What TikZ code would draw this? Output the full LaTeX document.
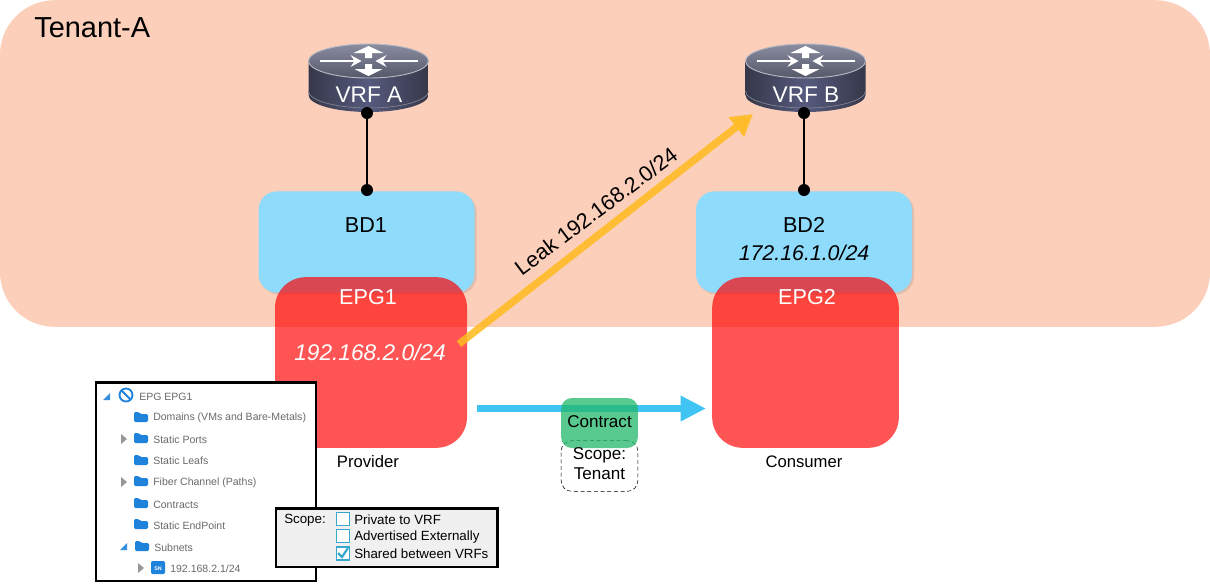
\documentclass[tikz,border=0pt]{standalone}
\usepackage{fontspec}
\setmainfont{Liberation Sans}
\usetikzlibrary{arrows.meta,shapes.geometric,shadows}
\definecolor{tenantfill}{HTML}{FBCFBA}
\definecolor{bdfill}{HTML}{8EDBFB}
\definecolor{epgfill}{HTML}{FF0000}
\definecolor{leakcol}{HTML}{FFBB22}
\definecolor{flowcol}{HTML}{40C4F4}
\definecolor{contractfill}{HTML}{22B86A}
\definecolor{folderblue}{HTML}{1F83DC}
\definecolor{treetext}{HTML}{6A6A6A}
\definecolor{scopegrey}{HTML}{F0F0F0}
\definecolor{routerdark}{HTML}{363849}
\definecolor{routermid}{HTML}{565A7E}
\definecolor{routertop}{HTML}{8A8DA0}
\definecolor{routerlow}{HTML}{555869}
\definecolor{routerrim}{HTML}{B6B8C4}
\tikzset{
  bdbox/.style={draw=none,fill=bdfill,rounded corners=14pt,minimum width=162pt,minimum height=76pt,inner sep=0pt,drop shadow={opacity=.22,shadow xshift=1.5pt,shadow yshift=-1.5pt}},
  epgbox/.style={draw=none,fill=epgfill,fill opacity=.67,text opacity=1,rounded corners=23pt,inner sep=0pt},
  dot/.style={circle,fill=black,draw=none,minimum size=9pt,inner sep=0pt},
  treelabel/.style={anchor=west,font=\fontsize{7.9}{9}\selectfont,text=treetext,inner sep=0pt},
  treearrow/.style={fill=treetext!70,draw=none},
  checkitem/.style={anchor=west,font=\fontsize{10}{11}\selectfont,inner sep=0pt},
  tick/.style={draw=flowcol!85!black,fill=white,line width=1.1pt},
  biglabel/.style={font=\fontsize{16.2}{18}\selectfont,inner sep=0pt},
  smalllabel/.style={font=\fontsize{12.5}{14}\selectfont,inner sep=0pt},
}
\newcommand{\routerdrum}[2]{
  \shade[left color=routerdark,right color=routerdark,middle color=routermid]
    (#1-60,#2) -- (#1-60,#2+34) arc[start angle=180,end angle=0,x radius=60,y radius=17] -- (#1+60,#2) -- cycle;
  \draw[routerrim!60!routerdark,line width=.5pt] (#1-60,#2+30) arc[start angle=180,end angle=0,x radius=60,y radius=17];
  \shade[top color=routertop,bottom color=routerlow,draw=routerrim,line width=.7pt] (#1,#2) ellipse[x radius=60,y radius=17];
  \draw[white,line width=1.4pt] (#1-49,#2) -- (#1-14,#2);
  \fill[white] (#1-7,#2) -- (#1-18,#2-6) -- (#1-14,#2) -- (#1-18,#2+6) -- cycle;
  \draw[white,line width=1.4pt] (#1+49,#2) -- (#1+14,#2);
  \fill[white] (#1+7,#2) -- (#1+18,#2-6) -- (#1+14,#2) -- (#1+18,#2+6) -- cycle;
  \fill[white] (#1,#2-15) -- (#1+15,#2-8) -- (#1+3.5,#2-8) -- (#1+3.5,#2-3) -- (#1-3.5,#2-3) -- (#1-3.5,#2-8) -- (#1-15,#2-8) -- cycle;
  \fill[white] (#1,#2+15) -- (#1+14,#2+8) -- (#1+3.5,#2+8) -- (#1+3.5,#2+3) -- (#1-3.5,#2+3) -- (#1-3.5,#2+8) -- (#1-14,#2+8) -- cycle;
}
\newcommand{\folder}[2]{
  \fill[folderblue,rounded corners=1pt] (#1,#2-5) -- (#1,#2+5) -- (#1+14,#2+5) -- (#1+14,#2-3) -- (#1+6,#2-3) -- (#1+5,#2-5) -- cycle;
}
\begin{document}
\begin{tikzpicture}[x=0.75pt,y=-0.75pt]
\useasboundingbox (0,0) rectangle (1210,583);

\node[draw=none,fill=tenantfill,rounded corners=41pt,minimum width=907.5pt,minimum height=245pt,inner sep=0pt] (tenant) at (605,163.5) {};
\node[anchor=west,font=\fontsize{21.7}{24}\selectfont,inner sep=0pt] (tenantlabel) at (34,28) {Tenant-A};

\routerdrum{368.5}{61}
\routerdrum{805.5}{61}
\node[text=white,font=\fontsize{17}{19}\selectfont,inner sep=0pt] (vrfa) at (369,95) {VRF A};
\node[text=white,font=\fontsize{17}{19}\selectfont,inner sep=0pt] (vrfb) at (806,95) {VRF B};

\node[bdbox] (bd1) at (366.5,242) {};
\node[bdbox] (bd2) at (804,242) {};
\node[biglabel] (bd1label) at (366,225) {BD1};
\node[biglabel] (bd2label) at (804,225) {BD2};
\node[biglabel,font=\itshape\fontsize{16}{18}\selectfont] (bd2net) at (804,253) {172.16.1.0/24};

\node[epgbox,minimum width=144pt,minimum height=128pt] (epg1) at (371,362.5) {};
\node[epgbox,minimum width=140pt,minimum height=128pt] (epg2) at (805.5,362.5) {};
\node[biglabel,text=white] (epg1label) at (368,297) {EPG1};
\node[biglabel,text=white] (epg2label) at (807,297) {EPG2};
\node[biglabel,text=white,font=\itshape\fontsize{17}{18}\selectfont] (epg1net) at (370,352) {192.168.2.0/24};

\node[dot] (dota) at (367,113) {};
\node[dot] (dotb) at (804,113) {};
\node[dot] (dotbd1) at (367,190) {};
\node[dot] (dotbd2) at (804,190) {};
\draw[line width=1.5pt] (dota) -- (dotbd1);
\draw[line width=1.5pt] (dotb) -- (dotbd2);

\coordinate (leakstart) at (459,344);
\coordinate (leakend) at (753,114);
\draw[leakcol,opacity=.88,line width=5.5pt,-{Triangle[length=16pt,width=18pt]}] (leakstart) -- (leakend);
\node[rotate=37,biglabel] (leaklabel) at (596,211) {Leak 192.168.2.0/24};

\coordinate (flowstart) at (477,408.5);
\coordinate (flowend) at (706,408.5);
\draw[flowcol,line width=5.5pt,-{Triangle[length=19pt,width=18pt]}] (flowstart) -- (flowend);

\node[draw=black,densely dashed,fill=white,rounded corners=8pt,minimum width=57.5pt,minimum height=38pt,inner sep=0pt] (scopetenant) at (599.5,466) {};
\node[fill=contractfill,fill opacity=.75,text opacity=1,rounded corners=8pt,minimum width=57.5pt,minimum height=37.5pt,inner sep=0pt] (contract) at (599.5,423) {};
\node[font=\fontsize{12.8}{14}\selectfont,inner sep=0pt] (contractlabel) at (599.5,422) {Contract};
\node[font=\fontsize{12.8}{15}\selectfont,align=center,inner sep=0pt] (scopelabel) at (599.5,464) {Scope:\\Tenant};

\node[smalllabel] (provider) at (368,462) {Provider};
\node[smalllabel] (consumer) at (804,462) {Consumer};

\node[draw=black,fill=white,line width=2pt,minimum width=165pt,minimum height=149pt,inner sep=0pt] (treepanel) at (206,481.5) {};
\fill[folderblue!90] (110,393) -- (110,400) -- (103,400) -- cycle;
\draw[folderblue,line width=1.4pt] (126,395) circle (6.5);
\draw[folderblue,line width=1.4pt] (121.5,390.5) -- (130.5,399.5);
\node[treelabel] (t0) at (139,397) {EPG EPG1};
\folder{134}{417}
\node[treelabel] (t1) at (153,418) {Domains (VMs and Bare-Metals)};
\fill[treearrow] (121,434) -- (127,439) -- (121,444) -- cycle;
\folder{134}{438}
\node[treelabel] (t2) at (153,440) {Static Ports};
\folder{134}{460}
\node[treelabel] (t3) at (153,461) {Static Leafs};
\fill[treearrow] (121,477) -- (127,482) -- (121,487) -- cycle;
\folder{134}{481}
\node[treelabel] (t4) at (153,483) {Fiber Channel (Paths)};
\folder{134}{503}
\node[treelabel] (t5) at (153,505) {Contracts};
\folder{134}{524}
\node[treelabel] (t6) at (153,526) {Static EndPoint};
\fill[folderblue!90] (127,543) -- (127,550) -- (120,550) -- cycle;
\folder{135}{546}
\node[treelabel] (t7) at (154,548) {Subnets};
\fill[treearrow] (138,563) -- (144,568) -- (138,573) -- cycle;
\fill[folderblue,rounded corners=1pt] (151,561) rectangle (165,574);
\node[text=white,font=\fontsize{4}{4}\selectfont\bfseries,inner sep=0pt] (snlabel) at (158,569) {SN};
\node[treelabel] (t8) at (170,569) {192.168.2.1/24};

\node[draw=black,fill=scopegrey,line width=2pt,minimum width=166pt,minimum height=44pt,inner sep=0pt] (scopepanel) at (386.5,537.5) {};
\node[checkitem] (scopeword) at (284,520.5) {Scope:};
\node[tick,minimum size=10pt,inner sep=0pt] (box1) at (343,519) {};
\node[tick,minimum size=10pt,inner sep=0pt] (box2) at (343,536) {};
\node[tick,minimum size=10pt,inner sep=0pt] (box3) at (343,553.5) {};
\draw[flowcol!85!black,line width=1.6pt] (338,553) -- (342,557) -- (348,548);
\node[checkitem] (c1) at (354,519.5) {Private to VRF};
\node[checkitem] (c2) at (354,537) {Advertised Externally};
\node[checkitem] (c3) at (354,554) {Shared between VRFs};
\end{tikzpicture}
\end{document}
